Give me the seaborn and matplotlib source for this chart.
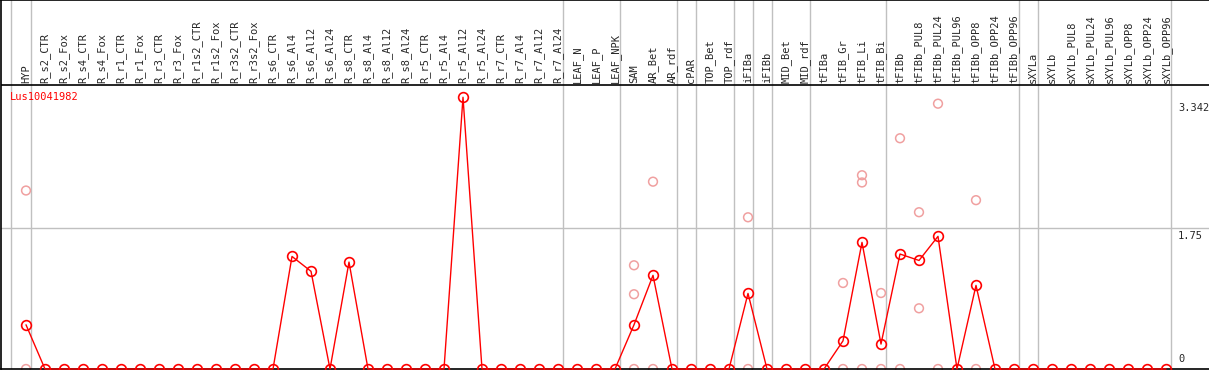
import numpy as np
import pandas as pd
import matplotlib
matplotlib.use("Agg")
import matplotlib.pyplot as plt
import seaborn as sns

gene = "Lus10041982"

samples = ["HYP",
           "R_s2_CTR", "R_s2_Fox", "R_s4_CTR", "R_s4_Fox", "R_r1_CTR", "R_r1_Fox",
           "R_r3_CTR", "R_r3_Fox", "R_r1s2_CTR", "R_r1s2_Fox", "R_r3s2_CTR", "R_r3s2_Fox",
           "R_s6_CTR", "R_s6_Al4", "R_s6_Al12", "R_s6_Al24",
           "R_s8_CTR", "R_s8_Al4", "R_s8_Al12", "R_s8_Al24",
           "R_r5_CTR", "R_r5_Al4", "R_r5_Al12", "R_r5_Al24",
           "R_r7_CTR", "R_r7_Al4", "R_r7_Al12", "R_r7_Al24",
           "LEAF_N", "LEAF_P", "LEAF_NPK",
           "SAM", "AR_Bet", "AR_rdf",
           "cPAR",
           "TOP_Bet", "TOP_rdf",
           "iFIBa",
           "iFIBb",
           "MID_Bet", "MID_rdf",
           "tFIBa", "tFIB_Gr", "tFIB_Li", "tFIB_Bi",
           "tFIBb", "tFIBb_PUL8", "tFIBb_PUL24", "tFIBb_PUL96", "tFIBb_OPP8", "tFIBb_OPP24", "tFIBb_OPP96",
           "sXYLa",
           "sXYLb", "sXYLb_PUL8", "sXYLb_PUL24", "sXYLb_PUL96", "sXYLb_OPP8", "sXYLb_OPP24", "sXYLb_OPP96"]

# mean expression per sample
mean_expr = [0.55,
             0, 0, 0, 0, 0, 0,
             0, 0, 0, 0, 0, 0,
             0, 1.40, 1.215, 0,
             1.33, 0, 0, 0,
             0, 0, 3.38, 0,
             0, 0, 0, 0,
             0, 0, 0,
             0.55, 1.165, 0,
             0,
             0, 0,
             0.94,
             0,
             0, 0,
             0, 0.35, 1.575, 0.31,
             1.43, 1.35, 1.65, 0, 1.04, 0, 0,
             0,
             0, 0, 0, 0, 0, 0, 0]

# replicate points (faint)
rep_sample = ["HYP", "HYP", "SAM", "SAM", "SAM", "AR_Bet", "AR_Bet", "iFIBa", "iFIBa",
              "tFIB_Gr", "tFIB_Gr", "tFIB_Li", "tFIB_Li", "tFIB_Li", "tFIB_Bi", "tFIB_Bi",
              "tFIBb", "tFIBb", "tFIBb_PUL8", "tFIBb_PUL8", "tFIBb_PUL24", "tFIBb_PUL24",
              "tFIBb_OPP8", "tFIBb_OPP8"]
rep_value = [2.22, 0, 1.29, 0.93, 0, 2.33, 0, 1.887, 0,
             1.07, 0, 2.41, 2.32, 0, 0.945, 0,
             2.87, 0, 1.95, 0.755, 3.30, 0,
             2.10, 0]

# last sample of each group -> separator
group_ends = ["HYP", "R_r7_Al24", "LEAF_NPK", "AR_rdf", "cPAR", "TOP_rdf", "iFIBa", "iFIBb",
              "MID_rdf", "tFIB_Bi", "tFIBb_OPP96", "sXYLa", "sXYLb_OPP96"]

ytick_vals = [0, 1.75, 3.342]
ytick_text = ["0", "1.75", "3.342"]

pos = {s: i for i, s in enumerate(samples)}
df = pd.DataFrame({"x": np.arange(len(samples)), "y": mean_expr})
reps = pd.DataFrame({"x": [pos[s] for s in rep_sample], "y": rep_value})

sns.set_style("white")
plt.rcParams["font.family"] = ["DejaVu Sans Mono"]

fig = plt.figure(figsize=(12.09, 3.70), dpi=100)
ax = fig.add_axes([1 / 1209, 1 / 370, 1208 / 1209, 369 / 370])

px = 80.4  # pixels per unit
ytop = 369 / px
hdr = (369 - 85) / px
ax.set_xlim(-(26 - 1) / 19, 60 + (1209 - 1166) / 19)
ax.set_ylim(0, ytop)

# separators and grid
ax.axvline(-0.805, color="#c0c0c0", lw=1, zorder=0)
for g in group_ends:
    ax.axvline(pos[g] + 0.25, color="#c0c0c0", lw=1, zorder=0)
ax.axhline(1.75, color="#c0c0c0", lw=1, zorder=0)
ax.axhline(hdr, color="black", lw=1.2, zorder=1)

sns.scatterplot(data=reps, x="x", y="y", ax=ax, marker="o", s=40,
                facecolor="none", edgecolor="#f0a0a0", linewidth=1.1, clip_on=False, zorder=2)
sns.lineplot(data=df, x="x", y="y", ax=ax, color="red", lw=1, sort=False,
             marker="o", markersize=7, markerfacecolor="none", markeredgecolor="red",
             markeredgewidth=1.2, clip_on=False, zorder=3)

for i, s in enumerate(samples):
    ax.text(i, hdr + 0.025, s, rotation=90, ha="center", va="bottom", fontsize=7.5)

for v, t in zip(ytick_vals, ytick_text):
    ax.text(60.63, v + (0.06 if v == 0 else -0.03), t, ha="left",
            va="bottom" if v == 0 else "top", fontsize=7.5)

ax.text(-0.842, 3.383, gene, color="red", ha="left", va="center", fontsize=7.5)

ax.set_xticks([])
ax.set_yticks([])
ax.set_xlabel("")
ax.set_ylabel("")
for side in ["left", "top", "bottom"]:
    ax.spines[side].set_color("black")
    ax.spines[side].set_linewidth(1.2)
ax.spines["right"].set_visible(False)

fig.savefig("out.png", dpi=100)
